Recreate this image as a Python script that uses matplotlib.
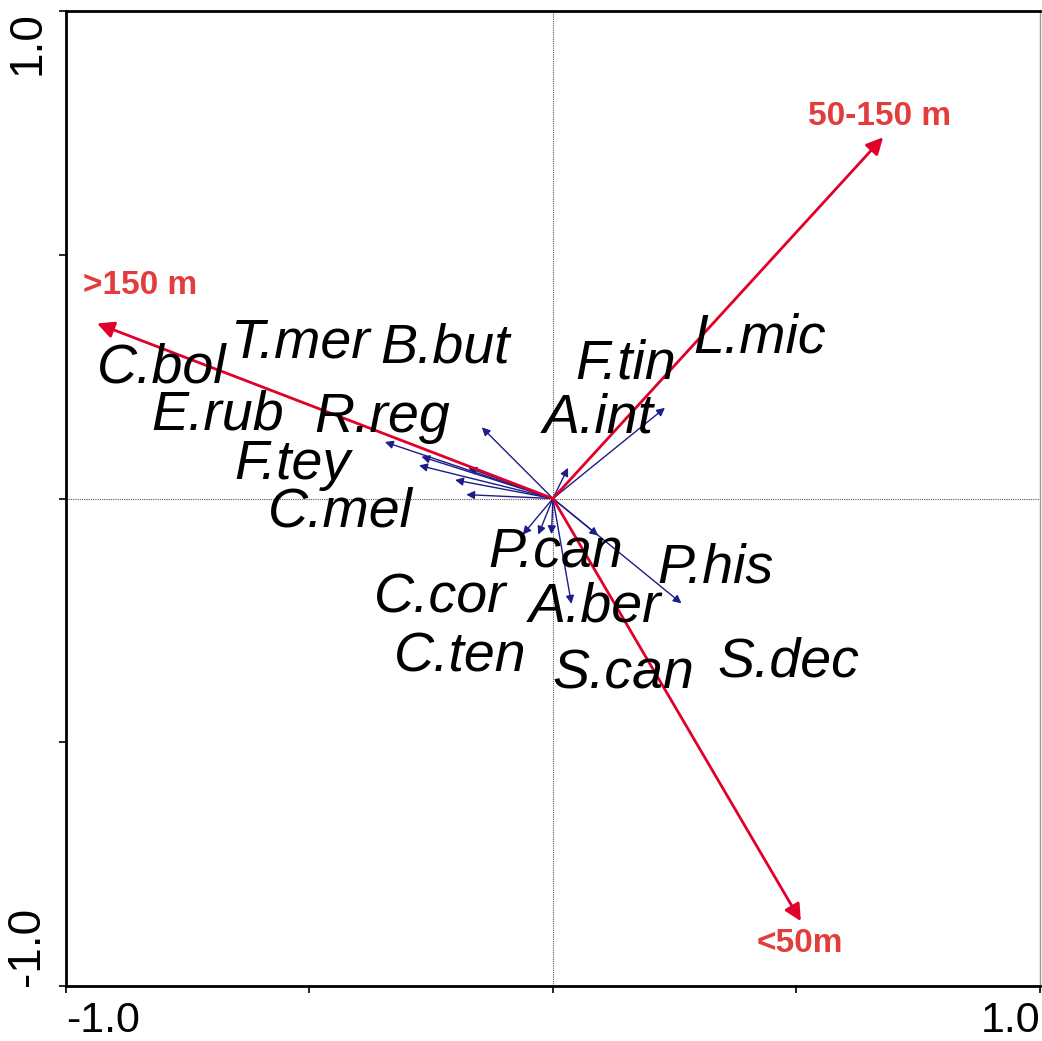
import numpy as np
import matplotlib
matplotlib.use("Agg")
import matplotlib.pyplot as plt

# species arrow tips (axis 1, axis 2)
sp_x = [-0.146, -0.345, -0.270, -0.275, -0.174, -0.201, -0.178, 0.230, 0.031,
        -0.062, -0.030, -0.003, 0.038, 0.093, 0.264]
sp_y = [0.146, 0.116, 0.086, 0.068, 0.063, 0.038, 0.008, 0.186, 0.063,
        -0.074, -0.074, -0.073, -0.216, -0.076, -0.215]

# species labels and where they sit
sp_names = ["C.bol", "T.mer", "B.but", "E.rub", "R.reg", "F.tey", "C.mel", "F.tin",
            "A.int", "L.mic", "P.can", "P.his", "C.cor", "A.ber", "C.ten", "S.can", "S.dec"]
lab_x = [-0.803, -0.520, -0.222, -0.688, -0.351, -0.536, -0.437, 0.150,
         0.092, 0.425, 0.006, 0.333, -0.232, 0.086, -0.191, 0.144, 0.483]
lab_y = [0.267, 0.318, 0.308, 0.170, 0.166, 0.068, -0.029, 0.275,
         0.164, 0.329, -0.111, -0.144, -0.205, -0.224, -0.326, -0.361, -0.337]

# environmental (depth) arrows
env_names = [">150 m", "50-150 m", "<50m"]
env_x = [-0.936, 0.678, 0.509]
env_y = [0.359, 0.741, -0.867]
env_lab_x = [-0.848, 0.671, 0.507]
env_lab_y = [0.438, 0.784, -0.912]

fig = plt.figure(figsize=(10.42, 10.41), dpi=100)
ax = fig.add_axes([0.0633, 0.0528, 0.9347, 0.9366])
ax.set_xlim(-1, 1)
ax.set_ylim(-1, 1)

# dotted crosshair
ax.axhline(0, color="#555555", lw=0.8, ls=(0, (1, 1)), zorder=1)
ax.axvline(0, color="#555555", lw=0.8, ls=(0, (1, 1)), zorder=1)

for x, y in zip(sp_x, sp_y):
    ax.annotate("", xy=(x, y), xytext=(0, 0),
                arrowprops=dict(arrowstyle="-|>", color="#1c1c8a", lw=1.0,
                                mutation_scale=12, shrinkA=0, shrinkB=0),
                zorder=3)

for x, y in zip(env_x, env_y):
    ax.annotate("", xy=(x, y), xytext=(0, 0),
                arrowprops=dict(arrowstyle="-|>", color="#e0002a", lw=2.0,
                                mutation_scale=25, shrinkA=0, shrinkB=0),
                zorder=4)

for name, x, y in zip(env_names, env_lab_x, env_lab_y):
    ax.text(x, y, name, color="#e23c3c", fontsize=24, fontweight="bold",
            family="Liberation Sans", ha="center", va="center", zorder=5)

for name, x, y in zip(sp_names, lab_x, lab_y):
    ax.text(x, y, name, fontsize=40, style="italic", family="Liberation Sans",
            ha="center", va="center", zorder=5)

# ticks: only the ends labelled
ax.set_xticks([-1, -0.5, 0, 0.5, 1])
ax.set_xticklabels(["-1.0", "", "", "", "1.0"])
ax.set_yticks([-1, -0.5, 0, 0.5, 1])
ax.set_yticklabels(["-1.0", "", "", "", "1.0"], rotation=90)
ax.tick_params(direction="out", length=5, width=1.2, labelsize=33)
ax.tick_params(axis="y", pad=7)
ax.tick_params(axis="x", pad=6, labelsize=31)
for t in ax.get_xticklabels():
    t.set_family("Liberation Sans")
for t in ax.get_yticklabels():
    t.set_family("Liberation Sans")
xl = ax.get_xticklabels()
xl[0].set_ha("left")
xl[-1].set_ha("right")
yl = ax.get_yticklabels()
yl[0].set_va("bottom")
yl[-1].set_va("top")

for s in ["left", "bottom", "top"]:
    ax.spines[s].set_linewidth(2)
ax.spines["right"].set_linewidth(1)
ax.spines["right"].set_color("#999999")

fig.savefig("out.png", dpi=100)
